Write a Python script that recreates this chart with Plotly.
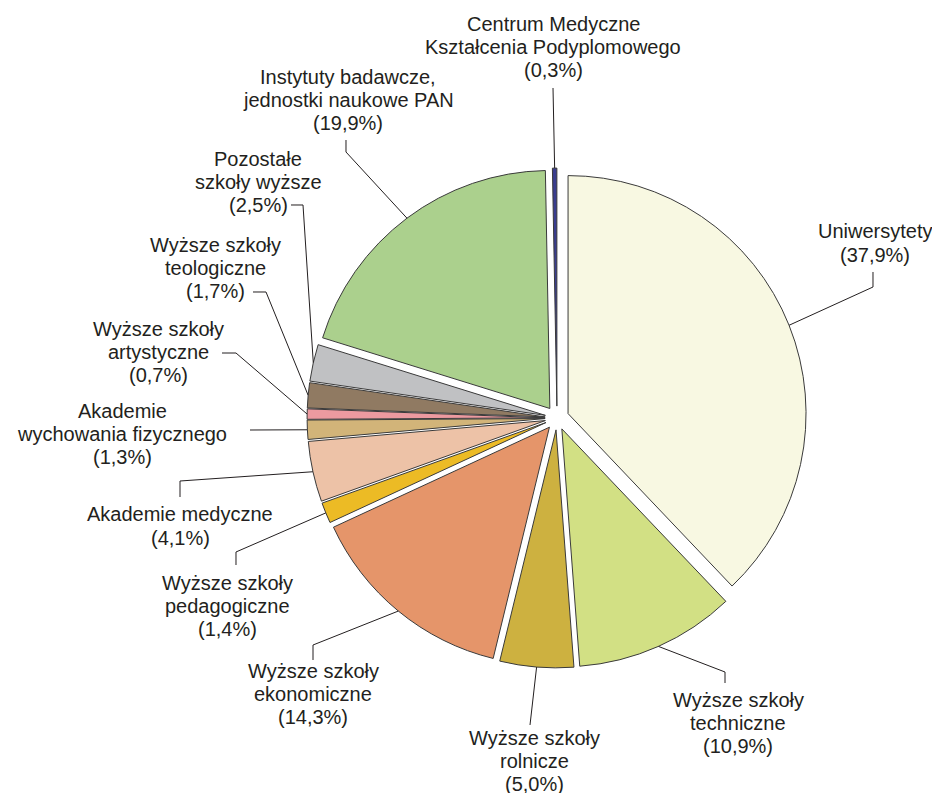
import math
import plotly.graph_objects as go

# slice names (clockwise from 12 o'clock) and shares in %
names = [
    "Uniwersytety",
    "Wyższe szkoły<br>techniczne",
    "Wyższe szkoły<br>rolnicze",
    "Wyższe szkoły<br>ekonomiczne",
    "Wyższe szkoły<br>pedagogiczne",
    "Akademie medyczne",
    "Akademie<br>wychowania fizycznego",
    "Wyższe szkoły<br>artystyczne",
    "Wyższe szkoły<br>teologiczne",
    "Pozostałe<br>szkoły wyższe",
    "Instytuty badawcze,<br>jednostki naukowe PAN",
    "Centrum Medyczne<br>Kształcenia Podyplomowego",
]
values = [37.9, 10.9, 5.0, 14.3, 1.4, 4.1, 1.3, 0.7, 1.7, 2.5, 19.9, 0.3]
colors = ["#F8F8E2", "#D2E084", "#CDB140", "#E5956A", "#ECBB25", "#EDC2A7",
          "#D2B479", "#EC9AA0", "#907A62", "#C0C1C3", "#ABD08D", "#3A3D8E"]

W, H = 940, 793
OFF = 8  # page body margin around the plot div
CX, CY, R, PULL = 557, 418, 238, 0.05  # screen pixels
LINE_H = 23.3
FONT_SIZE = 20

# label text centres and leader-line start/elbow points (screen pixels)
label_xy = [(875, 243), (738, 723), (534, 761), (313, 694), (227, 606), (180, 526),
            (122, 434), (158, 352), (215, 268), (258, 182), (348, 100), (553, 47)]
leaders = [
    [(873, 272), (873, 287)],
    [(725, 683), (725, 672)],
    [(530, 725)],
    [(313, 660), (313, 645)],
    [(236, 565), (236, 552)],
    [(180, 497), (180, 481)],
    [(250, 430)],
    [(222, 353), (236, 353)],
    [(253, 292), (266, 292)],
    [(291, 205), (303, 205)],
    [(346, 140), (346, 152)],
    [(553, 88)],
]


def px(x, y):
    return (x - OFF) / W, 1 - (y - OFF) / H


half = R * (1 + PULL)
x0, y1 = px(CX - half, CY - half)
x1, y0 = px(CX + half, CY + half)
fig = go.Figure(go.Pie(
    labels=[n.replace("<br>", " ") for n in names],
    values=values,
    sort=False,
    direction="clockwise",
    rotation=0,
    pull=[PULL] * len(values),
    marker=dict(colors=colors, line=dict(color="#3a3a3a", width=1)),
    textinfo="none",
    hoverinfo="label+percent",
    domain=dict(x=[x0, x1], y=[y0, y1]),
))

total = sum(values)
cum = 0
shapes, annotations = [], []
for name, v, (lx, ly), pts in zip(names, values, label_xy, leaders):
    mid = (cum + v / 2) / total * 2 * math.pi
    cum += v
    ex = CX + half * math.sin(mid)
    ey = CY - half * math.cos(mid)
    path_pts = [px(*p) for p in pts] + [px(ex, ey)]
    path = "M " + " L ".join(f"{a:.5f},{b:.5f}" for a, b in path_pts)
    shapes.append(dict(type="path", path=path, xref="paper", yref="paper",
                       line=dict(color="#231F20", width=1)))
    pct = f"({v:.1f}%)".replace(".", ",")
    lines = name.split("<br>") + [pct]
    n = len(lines)
    for i, line in enumerate(lines):
        ax, ay = px(lx, ly + (i - (n - 1) / 2) * LINE_H)
        annotations.append(dict(text=line, x=ax, y=ay, xref="paper", yref="paper",
                                showarrow=False, xanchor="center", yanchor="middle",
                                font=dict(size=FONT_SIZE, color="#231F20")))

fig.update_layout(
    width=W, height=H,
    margin=dict(l=0, r=0, t=0, b=0),
    paper_bgcolor="white",
    plot_bgcolor="white",
    showlegend=False,
    font=dict(family="Liberation Sans, Arial, sans-serif"),
    shapes=shapes,
    annotations=annotations,
)
fig.write_html("out.html")
